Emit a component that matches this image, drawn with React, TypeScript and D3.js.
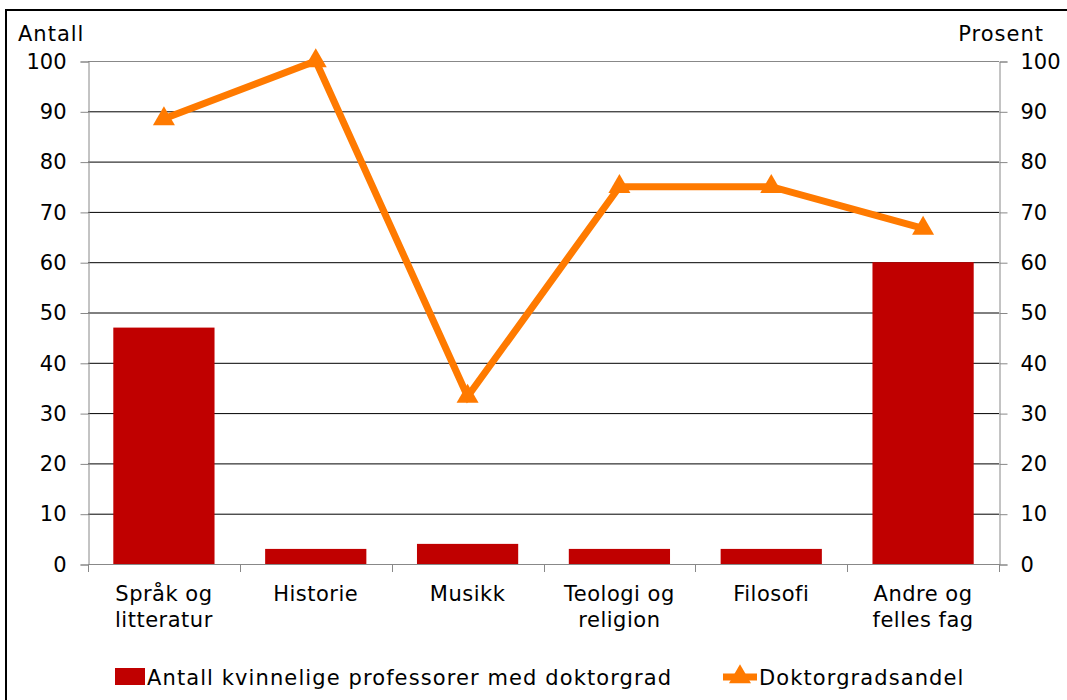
import React, { useEffect, useRef } from 'react';
import * as d3 from 'd3';

const categories = ['Språk og|litteratur', 'Historie', 'Musikk', 'Teologi og|religion', 'Filosofi', 'Andre og|felles fag'];
const antall = [47, 3, 4, 3, 3, 60];
const andel = [88.5, 100, 33.3, 75, 75, 66.7];
const ticks = [0, 10, 20, 30, 40, 50, 60, 70, 80, 90, 100];

const BAR = '#C00000';
const LINE = '#FF7A00';
const FONT = 'DejaVu Sans, Verdana, sans-serif';

export default function App() {
  const svgRef = useRef(null);

  useEffect(() => {
    const svg = d3.select(svgRef.current);
    svg.selectAll('*').remove();

    const left = 88;
    const right = 999;
    const top = 61;
    const bottom = 564;

    // frame
    svg.append('rect')
      .attr('x', 6).attr('y', 10)
      .attr('width', 1100).attr('height', 800)
      .attr('fill', 'white')
      .attr('stroke', 'black')
      .attr('stroke-width', 2);

    const x = d3.scaleBand().domain(categories).range([left, right]);
    const yL = d3.scaleLinear().domain([0, 100]).range([bottom, top]);
    const yR = d3.scaleLinear().domain([0, 100]).range([bottom, top]);

    // gridlines
    svg.append('g')
      .selectAll('line')
      .data(ticks.filter((t) => t > 0))
      .enter()
      .append('line')
      .attr('x1', left).attr('x2', right)
      .attr('y1', (d) => yL(d) + 0.5).attr('y2', (d) => yL(d) + 0.5)
      .attr('stroke', (d) => (d === 100 ? '#888' : '#000'))
      .attr('stroke-width', 1);

    // left axis
    const axL = svg.append('g')
      .attr('transform', `translate(${left + 0.5},0.5)`)
      .call(d3.axisLeft(yL).tickValues(ticks).tickSize(8).tickPadding(14));
    axL.select('.domain').attr('stroke', '#888');
    axL.selectAll('.tick line').attr('stroke', '#888');
    axL.selectAll('text').attr('font-family', FONT).attr('font-size', 21).attr('fill', '#000');

    // right axis
    const axR = svg.append('g')
      .attr('transform', `translate(${right + 0.5},0.5)`)
      .call(d3.axisRight(yR).tickValues(ticks).tickSize(8).tickPadding(13));
    axR.select('.domain').attr('stroke', '#888');
    axR.selectAll('.tick line').attr('stroke', '#888');
    axR.selectAll('text').attr('font-family', FONT).attr('font-size', 21).attr('fill', '#000');

    // bars
    const bw = x.bandwidth() / 1.5;
    svg.append('g')
      .selectAll('rect')
      .data(antall)
      .enter()
      .append('rect')
      .attr('x', (d, i) => x(categories[i]) + (x.bandwidth() - bw) / 2)
      .attr('y', (d) => yL(d))
      .attr('width', bw)
      .attr('height', (d) => yL(0) - yL(d))
      .attr('fill', BAR);

    // x axis
    svg.append('line')
      .attr('x1', left).attr('x2', right)
      .attr('y1', bottom + 0.5).attr('y2', bottom + 0.5)
      .attr('stroke', '#888');
    const edges = categories.map((c) => x(c)).concat([right]);
    svg.append('g')
      .selectAll('line')
      .data(edges)
      .enter()
      .append('line')
      .attr('x1', (d) => Math.round(d) + 0.5).attr('x2', (d) => Math.round(d) + 0.5)
      .attr('y1', bottom).attr('y2', bottom + 8)
      .attr('stroke', '#888');

    const lab = svg.append('g')
      .selectAll('text')
      .data(categories)
      .enter()
      .append('text')
      .attr('x', (d) => x(d) + x.bandwidth() / 2)
      .attr('y', 601)
      .attr('text-anchor', 'middle')
      .attr('font-family', FONT)
      .attr('font-size', 21)
      .attr('letter-spacing', 0.5);
    lab.each(function (d) {
      const parts = d.split('|');
      const t = d3.select(this);
      parts.forEach((p, i) => {
        t.append('tspan')
          .attr('x', x(d) + x.bandwidth() / 2)
          .attr('dy', i === 0 ? 0 : 26)
          .text(p);
      });
    });

    // line
    const cx = (i) => x(categories[i]) + x.bandwidth() / 2;
    const line = d3.line()
      .x((d, i) => cx(i))
      .y((d) => yR(d));
    svg.append('path')
      .datum(andel)
      .attr('d', line)
      .attr('fill', 'none')
      .attr('stroke', LINE)
      .attr('stroke-width', 7)
      .attr('stroke-linejoin', 'miter');

    const tri = d3.symbol().type(d3.symbolTriangle).size(210);
    svg.append('g')
      .selectAll('path')
      .data(andel)
      .enter()
      .append('path')
      .attr('d', tri)
      .attr('transform', (d, i) => `translate(${cx(i)},${yR(d)})`)
      .attr('fill', LINE);

    // axis titles
    svg.append('text')
      .attr('x', 18).attr('y', 41)
      .attr('font-family', FONT).attr('font-size', 21)
      .attr('letter-spacing', 1)
      .text('Antall');
    svg.append('text')
      .attr('x', 1044).attr('y', 41)
      .attr('text-anchor', 'end')
      .attr('font-family', FONT).attr('font-size', 21)
      .attr('letter-spacing', 1)
      .text('Prosent');

    // legend
    svg.append('rect')
      .attr('x', 115).attr('y', 668)
      .attr('width', 30).attr('height', 17)
      .attr('fill', BAR);
    svg.append('text')
      .attr('x', 147).attr('y', 685)
      .attr('font-family', FONT).attr('font-size', 21)
      .attr('letter-spacing', 1.1)
      .text('Antall kvinnelige professorer med doktorgrad');
    svg.append('line')
      .attr('x1', 723).attr('x2', 757)
      .attr('y1', 677).attr('y2', 677)
      .attr('stroke', LINE).attr('stroke-width', 7);
    svg.append('path')
      .attr('d', tri)
      .attr('transform', 'translate(740,677)')
      .attr('fill', LINE);
    svg.append('text')
      .attr('x', 759).attr('y', 685)
      .attr('font-family', FONT).attr('font-size', 21)
      .attr('letter-spacing', 1.1)
      .text('Doktorgradsandel');
  }, []);

  return (
    <div style={{ position: 'absolute', left: 0, top: 0 }}>
      <svg ref={svgRef} width={1067} height={700} style={{ display: 'block' }} />
    </div>
  );
}
